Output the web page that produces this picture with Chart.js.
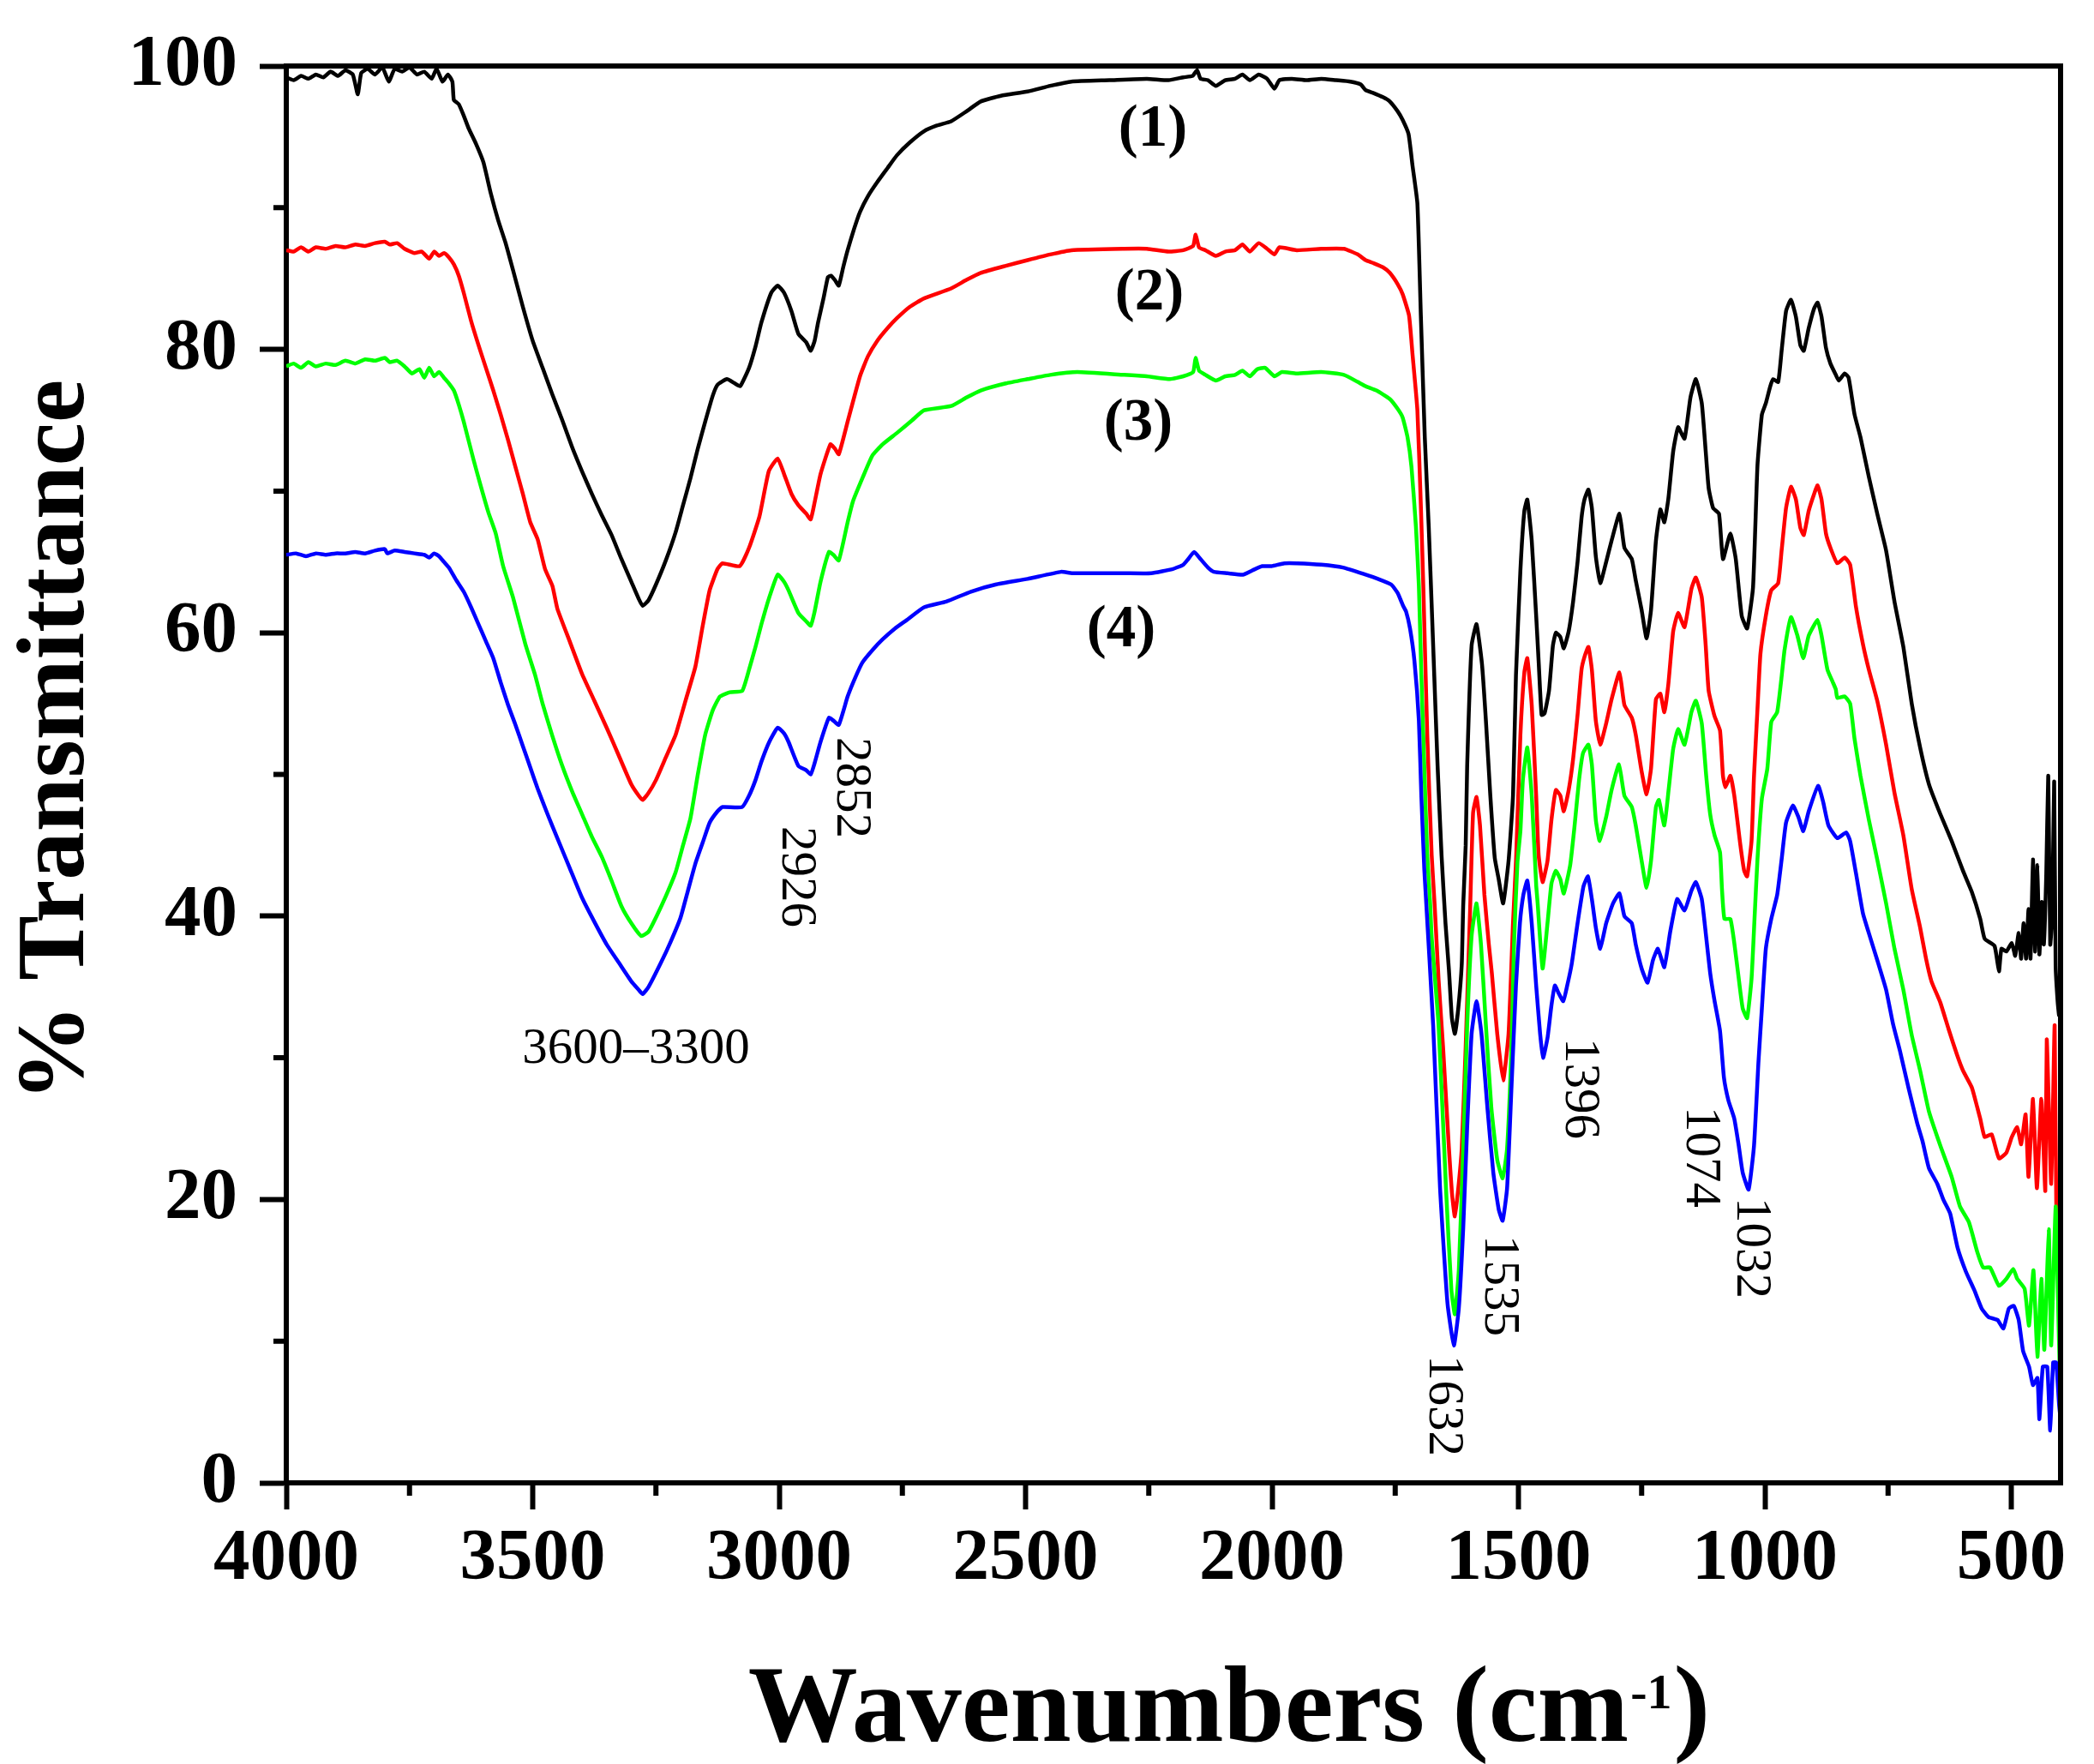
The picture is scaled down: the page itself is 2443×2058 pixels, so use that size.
<!DOCTYPE html>
<html>
<head>
<meta charset="utf-8">
<script src="https://cdn.jsdelivr.net/npm/chart.js@4.4.0/dist/chart.umd.min.js"></script>
<style>
  html, body { margin: 0; padding: 0; background: #fff; }
  canvas { display: block; }
</style>
</head>
<body>
<canvas id="ftir" width="2443" height="2058" style="width:2443px;height:2058px"></canvas>
<script>
// Espectros FTIR (% transmitancia vs número de onda), pares [cm-1, %T]
const black = [[4000,99.2],[3985,99.0],[3970,99.3],[3955,99.1],[3940,99.4],[3925,99.2],[3910,99.6],[3895,99.3],[3880,99.7],[3865,99.4],[3855,98.0],[3848,99.5],[3835,99.8],[3820,99.4],[3805,99.9],[3792,98.9],[3780,99.8],[3765,99.6],[3750,99.9],[3735,99.4],[3720,99.6],[3705,99.1],[3695,99.8],[3683,98.9],[3672,99.4],[3663,98.9],[3660,97.6],[3650,97.3],[3640,96.5],[3630,95.6],[3615,94.5],[3600,93.2],[3585,91.0],[3570,89.1],[3555,87.5],[3540,85.6],[3520,83.0],[3500,80.6],[3480,78.7],[3460,76.8],[3440,75.0],[3420,73.1],[3400,71.4],[3380,69.8],[3360,68.3],[3340,66.9],[3320,65.2],[3300,63.6],[3285,62.4],[3277,61.9],[3265,62.3],[3250,63.4],[3230,65.1],[3210,67.1],[3195,69.0],[3180,70.9],[3165,73.0],[3150,74.9],[3135,76.7],[3125,77.5],[3106,77.9],[3090,77.6],[3079,77.4],[3061,78.7],[3048,80.2],[3036,81.9],[3016,84.0],[3003,84.5],[2990,84.0],[2975,82.7],[2961,81.1],[2945,80.5],[2936,79.9],[2928,80.6],[2921,81.9],[2910,83.6],[2901,85.1],[2895,85.2],[2887,84.9],[2879,84.5],[2870,85.8],[2861,87.0],[2848,88.5],[2836,89.7],[2820,90.8],[2801,91.8],[2780,92.8],[2761,93.7],[2735,94.6],[2706,95.4],[2680,95.8],[2651,96.1],[2620,96.8],[2591,97.5],[2550,97.9],[2496,98.2],[2450,98.6],[2407,98.9],[2330,99.0],[2254,99.1],[2210,99.0],[2180,99.2],[2161,99.3],[2152,99.7],[2145,99.1],[2130,99.0],[2114,98.6],[2095,99.0],[2075,99.1],[2060,99.4],[2045,99.0],[2027,99.4],[2010,99.1],[1995,98.4],[1985,99.0],[1960,99.1],[1930,99.0],[1900,99.1],[1870,99.0],[1841,98.9],[1820,98.7],[1810,98.3],[1795,98.1],[1775,97.8],[1761,97.5],[1745,96.8],[1735,96.2],[1723,95.2],[1715,93.0],[1705,90.3],[1698,82.4],[1690,73.8],[1682,67.5],[1673,59.1],[1664,50.6],[1656,44.3],[1648,39.5],[1641,36.2],[1635,32.8],[1629,31.7],[1622,33.5],[1615,36.6],[1612,40.8],[1607,45.0],[1604,50.6],[1595,59.1],[1585,60.6],[1574,57.8],[1566,53.8],[1557,48.5],[1548,44.1],[1540,42.6],[1531,40.9],[1520,43.9],[1511,48.5],[1505,57.0],[1496,64.4],[1488,68.6],[1482,69.4],[1473,66.5],[1464,61.2],[1459,58.0],[1453,54.2],[1447,54.3],[1438,55.9],[1430,59.1],[1424,60.0],[1415,59.7],[1408,58.9],[1398,60.1],[1389,62.2],[1380,65.0],[1372,68.1],[1366,69.4],[1358,70.1],[1351,68.8],[1343,65.4],[1334,63.5],[1322,65.0],[1311,66.5],[1295,68.4],[1285,66.0],[1270,65.2],[1262,63.7],[1250,61.6],[1240,59.6],[1231,61.6],[1221,66.5],[1212,68.7],[1204,67.8],[1196,69.4],[1186,72.8],[1176,74.5],[1163,73.7],[1151,76.6],[1140,77.9],[1128,76.2],[1120,72.8],[1114,70.2],[1105,68.8],[1093,68.4],[1085,65.2],[1070,67.0],[1059,65.2],[1047,61.2],[1036,60.3],[1024,63.2],[1015,71.8],[1006,75.4],[998,76.2],[989,77.4],[983,77.9],[973,77.7],[966,79.9],[957,82.7],[947,83.5],[937,82.3],[928,80.3],[921,79.9],[911,81.5],[900,82.9],[893,83.3],[885,82.3],[876,80.1],[867,79.0],[856,78.2],[850,77.8],[838,78.3],[830,78.0],[818,75.4],[806,73.8],[789,71.0],[772,68.4],[754,65.8],[737,62.2],[719,59.0],[702,55.0],[685,51.9],[667,49.3],[644,47.2],[621,45.3],[598,43.2],[580,41.7],[563,39.8],[554,38.4],[534,37.9],[525,36.1],[520,37.7],[510,37.5],[499,38.1],[492,37.2],[485,38.8],[480,37.0],[475,39.5],[470,37.0],[465,40.5],[461,37.0],[456,44.0],[452,37.5],[447,43.6],[443,37.3],[438,41.0],[434,38.0],[429,43.0],[425,49.9],[421,38.0],[417,40.0],[413,49.5],[410,36.5],[406,34.0],[403,33.0],[400,35.0]];

const red = [[4000,87.0],[3985,86.9],[3970,87.2],[3955,86.9],[3940,87.2],[3920,87.1],[3900,87.3],[3880,87.2],[3860,87.4],[3840,87.3],[3820,87.5],[3800,87.6],[3790,87.4],[3775,87.5],[3760,87.1],[3740,86.8],[3725,86.9],[3710,86.4],[3700,86.9],[3690,86.6],[3680,86.8],[3670,86.5],[3660,86.0],[3650,85.2],[3640,84.0],[3625,82.0],[3610,80.3],[3595,78.7],[3580,77.1],[3565,75.4],[3550,73.6],[3535,71.7],[3520,69.8],[3505,67.8],[3490,66.6],[3475,64.5],[3460,63.3],[3450,61.7],[3425,59.4],[3400,57.1],[3375,55.2],[3350,53.3],[3325,51.3],[3300,49.3],[3285,48.5],[3277,48.2],[3265,48.7],[3250,49.6],[3230,51.2],[3210,52.8],[3190,55.2],[3170,57.6],[3155,60.5],[3141,63.0],[3125,64.5],[3115,64.9],[3080,64.7],[3061,66.0],[3040,68.2],[3021,71.4],[3003,72.3],[2990,71.2],[2975,69.8],[2961,69.0],[2945,68.4],[2936,68.0],[2928,69.2],[2916,71.2],[2896,73.3],[2887,73.0],[2879,72.6],[2861,74.9],[2836,78.1],[2820,79.5],[2801,80.6],[2780,81.5],[2761,82.2],[2735,83.0],[2706,83.6],[2651,84.3],[2620,84.9],[2591,85.4],[2540,85.9],[2496,86.3],[2450,86.7],[2407,87.0],[2300,87.1],[2254,87.1],[2210,86.9],[2180,87.0],[2160,87.3],[2155,88.1],[2148,87.2],[2135,87.0],[2114,86.6],[2095,86.9],[2075,87.0],[2060,87.4],[2045,86.9],[2027,87.5],[2010,87.1],[1995,86.7],[1985,87.2],[1950,87.0],[1900,87.1],[1854,87.1],[1826,86.7],[1810,86.3],[1795,86.1],[1775,85.8],[1761,85.4],[1745,84.6],[1735,83.9],[1722,82.4],[1715,79.7],[1705,75.7],[1698,69.0],[1693,63.3],[1685,52.8],[1676,44.3],[1670,40.8],[1662,35.5],[1653,30.8],[1641,23.6],[1635,20.5],[1629,18.8],[1622,20.8],[1615,23.6],[1607,30.8],[1598,40.5],[1592,47.3],[1585,48.4],[1578,46.4],[1569,41.5],[1560,38.0],[1554,36.0],[1543,31.7],[1531,28.4],[1520,31.7],[1511,39.5],[1505,43.8],[1496,52.8],[1488,57.2],[1482,58.2],[1473,54.9],[1464,48.5],[1459,44.3],[1451,42.4],[1441,43.9],[1433,46.8],[1424,48.9],[1415,48.5],[1408,47.4],[1398,48.9],[1389,51.1],[1380,54.2],[1372,57.4],[1366,58.3],[1358,59.0],[1351,57.4],[1343,53.8],[1334,52.1],[1322,53.6],[1311,55.3],[1295,57.2],[1285,54.9],[1270,54.0],[1262,52.8],[1250,50.2],[1240,48.6],[1231,50.4],[1221,55.3],[1212,55.7],[1204,54.4],[1196,56.3],[1186,60.1],[1176,61.4],[1163,60.4],[1149,63.1],[1140,63.9],[1128,62.5],[1120,59.1],[1114,55.9],[1102,54.1],[1091,53.1],[1085,49.9],[1080,49.1],[1070,49.9],[1062,48.5],[1050,45.1],[1042,43.2],[1036,42.8],[1027,45.3],[1022,49.9],[1015,54.6],[1009,58.5],[998,61.2],[987,63.0],[973,63.5],[966,65.8],[957,68.8],[947,70.3],[937,69.4],[928,67.4],[921,66.9],[911,68.6],[900,69.8],[893,70.4],[885,69.4],[876,67.0],[867,66.0],[853,64.9],[838,65.3],[827,64.8],[815,61.8],[801,59.2],[789,57.4],[772,55.2],[754,52.1],[737,48.7],[719,45.7],[702,41.9],[685,39.2],[673,37.0],[662,35.4],[644,33.9],[627,32.0],[610,30.2],[598,29.1],[580,27.9],[569,26.5],[563,25.7],[554,24.4],[540,24.6],[525,22.9],[510,23.3],[499,24.4],[488,25.1],[480,23.9],[471,26.0],[465,21.6],[456,27.1],[448,20.8],[439,27.1],[431,20.6],[428,31.3],[419,21.1],[412,32.3],[408,16.9],[402,20.3],[400,18.5]];

const green = [[4000,78.8],[3985,79.0],[3970,78.7],[3955,79.1],[3940,78.8],[3920,79.0],[3900,78.9],[3880,79.2],[3860,79.0],[3840,79.3],[3820,79.2],[3800,79.4],[3790,79.1],[3775,79.2],[3760,78.8],[3745,78.3],[3730,78.6],[3720,78.0],[3710,78.7],[3700,78.1],[3690,78.4],[3680,78.0],[3670,77.6],[3660,77.1],[3650,76.1],[3640,74.9],[3620,72.2],[3605,70.3],[3590,68.5],[3575,67.0],[3560,64.7],[3540,62.5],[3515,59.2],[3495,57.0],[3480,55.0],[3460,52.7],[3440,50.6],[3420,48.8],[3400,47.2],[3380,45.6],[3360,44.2],[3340,42.5],[3320,40.7],[3300,39.5],[3280,38.6],[3265,38.9],[3250,39.9],[3230,41.4],[3210,43.1],[3195,45.0],[3180,46.9],[3165,50.0],[3150,52.8],[3135,54.5],[3120,55.5],[3100,55.8],[3075,55.9],[3061,57.4],[3048,59.0],[3036,60.6],[3020,62.5],[3003,64.1],[2990,63.6],[2981,63.0],[2961,61.4],[2945,60.8],[2936,60.5],[2928,61.5],[2916,63.6],[2899,65.7],[2890,65.5],[2879,65.1],[2861,67.8],[2850,69.3],[2830,71.0],[2811,72.5],[2790,73.3],[2761,74.1],[2730,75.0],[2706,75.7],[2651,76.0],[2620,76.6],[2591,77.1],[2540,77.6],[2496,77.9],[2450,78.2],[2395,78.4],[2300,78.2],[2254,78.1],[2207,77.9],[2180,78.1],[2160,78.4],[2155,79.4],[2148,78.5],[2135,78.2],[2114,77.8],[2095,78.1],[2075,78.2],[2060,78.5],[2045,78.1],[2030,78.6],[2014,78.7],[1995,78.1],[1980,78.4],[1950,78.3],[1900,78.4],[1854,78.2],[1826,77.7],[1810,77.4],[1788,77.1],[1761,76.5],[1745,75.8],[1735,75.2],[1725,73.8],[1717,71.7],[1708,67.5],[1702,63.3],[1697,57.0],[1691,50.6],[1685,44.3],[1679,40.8],[1676,38.5],[1662,32.3],[1647,20.8],[1636,13.6],[1629,11.9],[1621,15.0],[1612,23.6],[1604,32.3],[1595,38.6],[1585,40.9],[1576,38.0],[1566,32.3],[1555,26.5],[1543,22.8],[1532,21.5],[1523,23.6],[1514,30.8],[1509,38.0],[1502,43.8],[1496,46.0],[1491,49.6],[1482,51.9],[1473,48.5],[1464,42.2],[1461,40.9],[1451,36.3],[1441,39.5],[1433,42.3],[1424,43.2],[1415,42.6],[1408,41.6],[1395,43.6],[1386,46.4],[1377,49.6],[1369,51.5],[1358,52.1],[1351,50.7],[1343,46.8],[1335,45.3],[1322,47.0],[1311,48.9],[1296,50.7],[1285,48.5],[1270,47.7],[1262,46.4],[1250,43.9],[1240,42.0],[1231,43.9],[1221,47.7],[1215,48.2],[1204,46.4],[1195,49.0],[1186,51.8],[1176,53.2],[1163,52.1],[1149,54.4],[1140,55.2],[1128,53.6],[1119,49.9],[1111,47.2],[1102,45.7],[1091,44.5],[1087,41.9],[1082,39.8],[1070,39.8],[1062,38.1],[1053,35.6],[1045,33.5],[1036,32.8],[1027,35.6],[1021,39.8],[1015,44.0],[1006,48.3],[995,50.4],[987,53.7],[975,54.4],[966,56.9],[960,58.8],[947,61.1],[934,59.8],[922,58.2],[911,59.8],[893,60.9],[885,59.8],[873,57.4],[862,56.5],[856,56.0],[853,55.4],[838,55.5],[827,55.0],[818,52.5],[806,49.9],[789,46.8],[772,44.0],[754,40.9],[737,37.7],[719,34.8],[702,31.6],[685,29.1],[667,26.2],[644,23.8],[621,21.6],[604,19.5],[586,18.4],[569,16.3],[557,15.2],[543,15.2],[525,13.9],[510,14.4],[496,15.1],[488,14.4],[473,13.7],[464,11.1],[455,15.0],[447,8.9],[439,14.4],[433,9.4],[424,17.9],[419,9.7],[410,19.5],[404,11.1],[400,5.7]];

const blue = [[4000,65.5],[3980,65.6],[3960,65.4],[3940,65.6],[3920,65.5],[3900,65.6],[3880,65.6],[3860,65.7],[3840,65.6],[3820,65.8],[3800,65.9],[3795,65.6],[3780,65.8],[3760,65.7],[3740,65.6],[3720,65.5],[3710,65.3],[3700,65.6],[3690,65.4],[3680,65.0],[3670,64.6],[3655,63.7],[3640,62.9],[3625,61.8],[3610,60.6],[3595,59.4],[3580,58.2],[3565,56.5],[3550,54.9],[3535,53.5],[3520,52.0],[3505,50.5],[3490,49.0],[3470,47.2],[3450,45.5],[3425,43.4],[3400,41.3],[3375,39.6],[3350,38.0],[3325,36.7],[3300,35.4],[3285,34.8],[3277,34.5],[3265,35.0],[3240,36.7],[3220,38.2],[3200,39.9],[3185,41.8],[3170,43.7],[3155,45.2],[3141,46.6],[3125,47.4],[3115,47.7],[3075,47.7],[3061,48.5],[3048,49.6],[3036,50.9],[3020,52.3],[3003,53.3],[2990,52.9],[2981,52.3],[2961,50.6],[2945,50.3],[2936,50.0],[2928,50.8],[2916,52.3],[2899,54.0],[2890,53.8],[2879,53.5],[2861,55.5],[2846,56.8],[2831,57.9],[2810,58.8],[2791,59.5],[2765,60.3],[2741,60.9],[2706,61.8],[2661,62.2],[2611,62.9],[2561,63.4],[2496,63.8],[2428,64.3],[2406,64.2],[2300,64.2],[2245,64.2],[2201,64.5],[2180,64.8],[2170,65.2],[2158,65.7],[2145,65.2],[2130,64.6],[2118,64.3],[2090,64.2],[2059,64.1],[2040,64.4],[2020,64.7],[2001,64.7],[1975,64.9],[1949,64.9],[1900,64.8],[1856,64.6],[1810,64.1],[1785,63.8],[1758,63.4],[1745,62.8],[1734,61.9],[1728,61.5],[1720,60.3],[1711,58.0],[1702,53.8],[1697,48.5],[1691,43.3],[1688,41.5],[1673,32.3],[1659,20.8],[1644,12.7],[1631,9.7],[1621,12.3],[1612,18.0],[1604,25.1],[1595,31.7],[1585,34.0],[1575,31.7],[1563,26.5],[1551,21.9],[1540,19.3],[1532,18.5],[1523,20.8],[1514,28.0],[1505,35.1],[1497,39.5],[1490,41.5],[1482,42.5],[1473,39.5],[1464,35.1],[1456,31.7],[1450,30.0],[1441,31.4],[1433,33.7],[1426,35.1],[1419,34.6],[1409,34.0],[1401,35.1],[1392,36.6],[1380,39.5],[1368,42.1],[1359,42.8],[1351,41.2],[1343,39.2],[1334,37.7],[1322,39.5],[1308,40.9],[1295,41.6],[1285,40.0],[1270,39.5],[1262,38.0],[1250,36.3],[1238,35.3],[1227,36.9],[1217,37.7],[1204,36.4],[1192,38.9],[1178,41.2],[1163,40.4],[1149,41.8],[1140,42.4],[1128,41.2],[1119,38.5],[1111,36.0],[1102,34.0],[1091,31.9],[1083,28.6],[1074,27.0],[1062,25.7],[1053,23.8],[1045,21.9],[1033,20.7],[1022,23.8],[1013,29.7],[1006,33.5],[998,37.7],[987,39.8],[975,41.5],[966,44.0],[957,46.6],[943,47.8],[932,47.0],[922,46.0],[911,47.4],[892,49.2],[882,48.1],[871,46.4],[853,45.5],[835,45.9],[827,45.3],[815,43.0],[801,40.2],[789,38.8],[772,36.9],[754,34.8],[740,32.4],[726,30.5],[708,27.8],[691,25.4],[680,24.1],[667,22.2],[650,21.1],[638,20.0],[624,19.0],[609,16.6],[592,14.9],[575,13.6],[560,12.3],[546,11.7],[528,11.5],[516,10.9],[505,12.3],[495,12.5],[485,11.5],[476,9.3],[464,8.2],[456,6.9],[447,7.4],[443,4.5],[436,8.2],[427,8.2],[421,3.7],[415,8.5],[409,8.5],[403,5.5],[400,4.5]];

const xTicks = [500, 1000, 1500, 2000, 2500, 3000, 3500, 4000];
const xMinor = [750, 1250, 1750, 2250, 2750, 3250, 3750];
const yTicks = [0, 20, 40, 60, 80, 100];
const yMinor = [10, 30, 50, 70, 90];

const curveLabels = ['(1)', '(2)', '(3)', '(4)'];
// bandas anotadas (números rotados)
const bandLabels = ['2852', '2926', '1396', '1535', '1632', '1074', '1032'];

const SERIF = '"Liberation Serif", "Times New Roman", serif';
const toXY = arr => arr.map(p => ({ x: p[0], y: p[1] }));

function line(data, color) {
  return { data: toXY(data), borderColor: color, backgroundColor: color, borderWidth: 4.5, pointRadius: 0, tension: 0.15, fill: false };
}

// Marco superior/derecho, ticks menores, títulos y anotaciones
const decor = {
  id: 'decor',
  afterDraw(chart) {
    const { ctx, chartArea: a, scales: { x, y } } = chart;
    ctx.save();
    ctx.strokeStyle = '#000';
    ctx.lineWidth = 6;
    ctx.beginPath();
    ctx.moveTo(a.left - 3, a.top); ctx.lineTo(a.right + 3, a.top);
    ctx.moveTo(a.right, a.top); ctx.lineTo(a.right, a.bottom + 3);
    ctx.stroke();

    ctx.beginPath();
    xMinor.forEach(v => { const px = x.getPixelForValue(v); ctx.moveTo(px, a.bottom); ctx.lineTo(px, a.bottom + 15); });
    yMinor.forEach(v => { const py = y.getPixelForValue(v); ctx.moveTo(a.left, py); ctx.lineTo(a.left - 15, py); });
    ctx.stroke();

    ctx.fillStyle = '#000';
    // título eje Y
    ctx.save();
    ctx.translate(97, 864);
    ctx.rotate(-Math.PI / 2);
    ctx.font = 'bold 113px ' + SERIF;
    ctx.textAlign = 'center';
    ctx.textBaseline = 'alphabetic';
    ctx.fillText('% Transmittance', 0, 0);
    ctx.restore();

    // título eje X con superíndice
    const main = 'Wavenumbers (cm', sup = '-1', close = ')';
    ctx.textBaseline = 'alphabetic';
    ctx.textAlign = 'left';
    ctx.font = 'bold 128px ' + SERIF;
    const w1 = ctx.measureText(main).width, w3 = ctx.measureText(close).width;
    ctx.font = 'bold 58px ' + SERIF;
    const w2 = ctx.measureText(sup).width;
    const sx = 1432 - (w1 + w2 + w3) / 2;
    ctx.font = 'bold 128px ' + SERIF;
    ctx.fillText(main, sx, 2031);
    ctx.font = 'bold 58px ' + SERIF;
    ctx.fillText(sup, sx + w1 + 2, 1993);
    ctx.font = 'bold 128px ' + SERIF;
    ctx.fillText(close, sx + w1 + w2 + 4, 2031);

    // (1)..(4)
    ctx.font = 'bold 69px ' + SERIF;
    ctx.textAlign = 'center';
    const lp = [[1345, 170], [1341, 361], [1328, 513], [1308, 754]];
    curveLabels.forEach((t, i) => ctx.fillText(t, lp[i][0], lp[i][1]));

    // bandas
    ctx.font = '59px ' + SERIF;
    ctx.fillText('3600\u20133300', 742, 1240);
    const bp = [[977, 919], [913, 1023], [1827, 1270], [1733, 1500], [1668, 1640], [1968, 1350], [2027, 1456]];
    bandLabels.forEach((t, i) => {
      ctx.save();
      ctx.translate(bp[i][0], bp[i][1]);
      ctx.rotate(Math.PI / 2);
      ctx.textAlign = 'center';
      ctx.textBaseline = 'alphabetic';
      ctx.fillText(t, 0, 0);
      ctx.restore();
    });
    ctx.restore();
  }
};

const tickFont = { family: SERIF, weight: 'bold', size: 85 };

new Chart(document.getElementById('ftir'), {
  type: 'line',
  data: {
    // blue primero = se dibuja encima
    datasets: [line(blue, '#0000ff'), line(green, '#00ff00'), line(red, '#ff0000'), line(black, '#000000')]
  },
  options: {
    responsive: false,
    animation: false,
    devicePixelRatio: 1,
    layout: { padding: { left: 0, right: 39, top: 66, bottom: 0 } },
    plugins: { legend: { display: false }, tooltip: { enabled: false } },
    scales: {
      x: {
        type: 'linear', reverse: true, min: 400, max: 4000,
        afterBuildTicks: s => { s.ticks = xTicks.map(v => ({ value: v })); },
        afterFit: s => { s.height = 2058 - 1730; },
        border: { display: true, width: 6, color: '#000' },
        grid: { drawOnChartArea: false, drawTicks: true, tickLength: 31, tickWidth: 6, tickColor: '#000' },
        ticks: { font: tickFont, color: '#000', padding: 8, maxRotation: 0, autoSkip: false, callback: v => String(v) }
      },
      y: {
        min: 0, max: 100,
        afterBuildTicks: s => { s.ticks = yTicks.map(v => ({ value: v })); },
        afterFit: s => { s.width = 334; },
        border: { display: true, width: 6, color: '#000' },
        grid: { drawOnChartArea: false, drawTicks: true, tickLength: 31, tickWidth: 6, tickColor: '#000' },
        ticks: { font: tickFont, color: '#000', padding: 26, callback: v => String(v) }
      }
    }
  },
  plugins: [decor]
});
</script>
</body>
</html>
